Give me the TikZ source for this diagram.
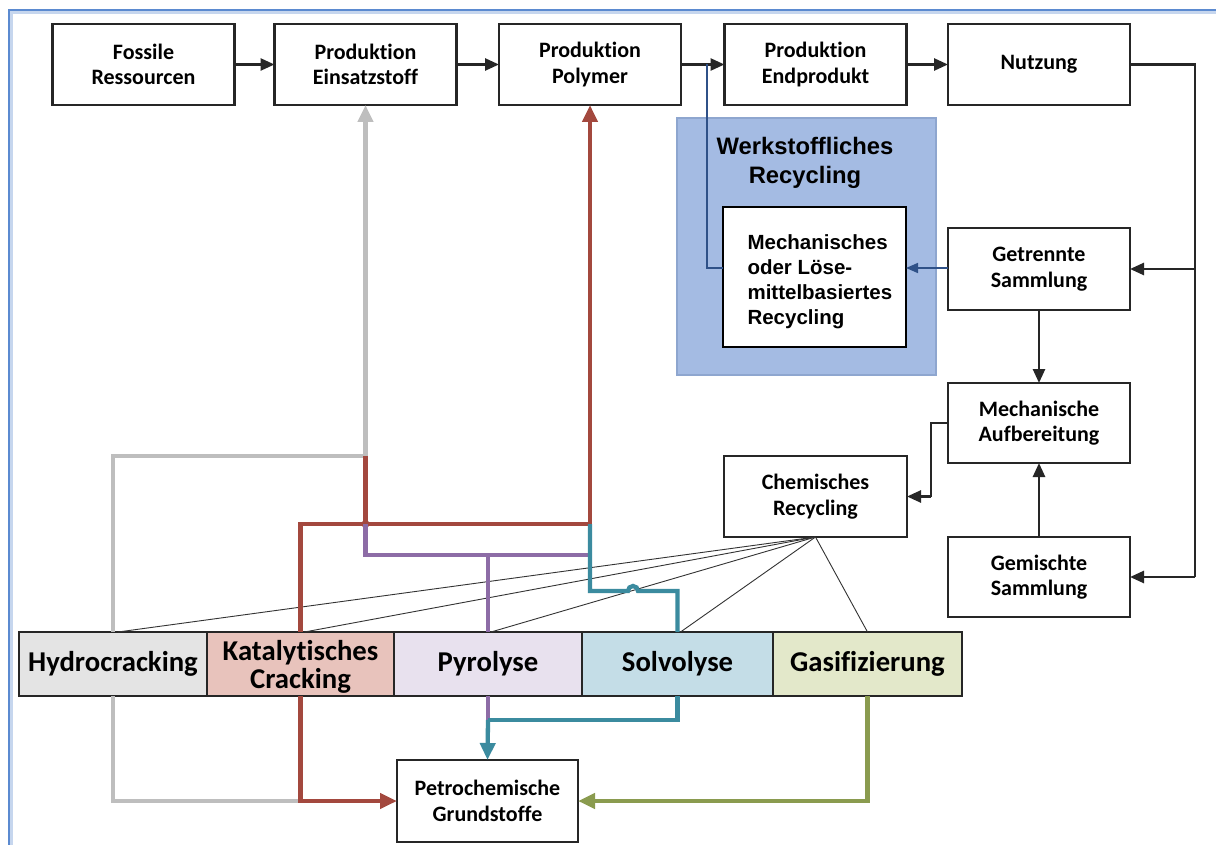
\documentclass[tikz,border=0pt]{standalone}
\usepackage{fontspec}
\setmainfont{Carlito}[Ligatures=NoCommon]
\newfontfamily\arialf{Liberation Sans}
\usetikzlibrary{arrows.meta,calc}
\definecolor{frameblue}{HTML}{5B8AD0}
\definecolor{wkfill}{HTML}{A4BBE3}
\definecolor{wkdraw}{HTML}{8EA6CF}
\definecolor{dkblue}{HTML}{2F5188}
\definecolor{cgray}{HTML}{BEBEBE}
\definecolor{cred}{HTML}{A3483E}
\definecolor{cpurple}{HTML}{8D6CA6}
\definecolor{cteal}{HTML}{3B8B9F}
\definecolor{cgreen}{HTML}{8A9B4F}
\definecolor{fhyd}{HTML}{E4E4E4}
\definecolor{fkat}{HTML}{E8C3BC}
\definecolor{fpyr}{HTML}{E8E1EE}
\definecolor{fsol}{HTML}{C4DDE7}
\definecolor{fgas}{HTML}{E3E8CA}
\tikzset{
  box/.style={draw=black!85, line width=2.4pt, fill=white, inner sep=0pt, outer sep=0pt,
    minimum width=182pt, minimum height=81pt, align=center,
    font=\fontsize{22}{25.5}\selectfont\bfseries},
  seg/.style={draw=black!85, line width=1.8pt, inner sep=0pt, outer sep=0pt,
    minimum height=64pt, align=center, font=\fontsize{28.7}{28}\selectfont\bfseries},
  blk/.style={draw=black!85, line width=2.6pt, -{Triangle[length=14pt,width=12pt]}},
  blkline/.style={draw=black!85, line width=2.6pt},
  col/.style={line width=4.3pt},
  coltip/.style={-{Triangle[length=17pt,width=15pt]}},
  fanline/.style={draw=black!80, line width=0.9pt},
}
\begin{document}
\begin{tikzpicture}[x=1pt,y=-1pt]
\useasboundingbox (0,0) rectangle (1216,845);
\fill[white] (0,0) rectangle (1216,845);
% frame
\draw[frameblue!35, line width=3pt] (1216,13) -- (11,13) -- (11,845);
\draw[frameblue, line width=2pt] (1216,10.5) -- (8.5,10.5) -- (8.5,845);

% Werkstoffliches Recycling area
\fill[wkfill] (677,118) rectangle (936,375);
\draw[wkdraw, line width=1.2pt] (677,118) rectangle (936,375);
\node[align=center, font=\arialf\fontsize{23.8}{29}\selectfont\bfseries] (wktitle) at (805,163) {Werkstoffliches\\Recycling};

% top row
\node[box] (fos) at (143.5,64.5) {Fossile\\Ressourcen};
\node[box] (ein) at (365.5,64.5) {Produktion\\Einsatzstoff};
\node[box] (pol) at (590,64.5) {Produktion\\Polymer};
\node[box] (end) at (815.5,64.5) {Produktion\\Endprodukt};
\node[box] (nut) at (1039,64.5) {Nutzung};

% right column
\node[box, minimum height=82pt] (get) at (1039,269) {Getrennte\\Sammlung};
\node[box, minimum height=80pt] (mech) at (1039,423) {Mechanische\\Aufbereitung};
\node[box, minimum height=80pt] (gem) at (1039,577) {Gemischte\\Sammlung};
\node[box, minimum width=183pt] (chem) at (815.5,496.5) {Chemisches\\Recycling};

% inner recycling box
\node[draw=black, line width=2.2pt, fill=white, inner sep=0pt, outer sep=0pt,
  minimum width=183pt, minimum height=140pt] (mr) at (814.5,277) {};
\node[anchor=west, align=left, font=\arialf\fontsize{20.5}{25}\selectfont\bfseries] (mrtext) at (744,282)
  {Mechanisches\\oder Löse-\\mittelbasiertes\\Recycling};

% process bar
\node[seg, fill=fhyd, minimum width=188pt] (hyd) at (113,664) {Hydrocracking};
\node[seg, fill=fkat, minimum width=187pt] (kat) at (300.5,664) {};
\node[font=\fontsize{28.7}{28}\selectfont\bfseries, align=center, inner sep=0pt] (kattext) at (300.5,667) {Katalytisches\\Cracking};
\node[seg, fill=fpyr, minimum width=188pt] (pyr) at (488,664) {Pyrolyse};
\node[seg, fill=fsol, minimum width=191pt] (sol) at (677.5,664) {Solvolyse};
\node[seg, fill=fgas, minimum width=189pt] (gas) at (867.5,664) {Gasifizierung};

% Petrochemische Grundstoffe
\node[box, minimum width=181pt, minimum height=82pt] (pet) at (487.5,801) {Petrochemische\\Grundstoffe};

% top row arrows
\draw[blk] (fos.east) -- (ein.west);
\draw[blk] (ein.east) -- (pol.west);
\draw[blk] (pol.east) -- (end.west);
\draw[blk] (end.east) -- (nut.west);

% right loop
\coordinate (rx) at (1195,64.5);
\draw[blkline] (nut.east) -- (rx) -- (rx |- gem.east);
\draw[blk] (rx |- gem.east) -- (gem.east);
\draw[blk] (rx |- get.east) -- (get.east);
\draw[blk] (get.south) -- (mech.north);
\draw[blk] (gem.north) -- (mech.south);
\coordinate (mx) at (931,423);
\draw[blkline] (mech.west) -- (mx) -- (mx |- chem.east);
\draw[blk] (mx |- chem.east) -- (chem.east);

% mechanical recycling (dark blue)
\coordinate (dy) at (0,268);
\draw[dkblue, line width=1.6pt, -{Triangle[length=12pt,width=10pt]}] (get.west |- dy) -- (mr.east |- dy);
\coordinate (dk) at (707,64.5);
\draw[dkblue, line width=1.6pt] (mr.west |- dy) -- (dk |- dy) -- (dk);

% fan lines from Chemisches Recycling
\foreach \t/\dx in {hyd/5, kat/4, pyr/3, sol/3, gas/0} {
  \draw[fanline] (chem.south) -- ($(\t.north)+(\dx,0)$);
}

% colored upward flows
\coordinate (g1) at (365.5,456);
\coordinate (r1) at (365.5,524);
\coordinate (p1) at (365.5,555);
\draw[cgray, col, coltip] (hyd.north) |- (g1) -- (ein.south);
\draw[cred, col, coltip] (kat.north) |- (pol.south |- r1) -- (pol.south);
\draw[cred, col] (g1) -- (r1);
\fill[cred] (r1) circle (4pt);
\draw[cpurple, col] (r1) -- (p1) -- (pol.south |- p1);
\draw[cpurple, col] (pyr.north |- p1) -- (pyr.north);
\coordinate (t1) at (590,591);
\draw[cteal, col] (pol.south |- r1) -- (t1) -- (628,591) arc[start angle=180, end angle=0, radius=5pt] -- (sol.north |- t1) -- (sol.north);

% colored downward flows
\coordinate (b1) at (488,720);
\draw[cgray, col] (hyd.south) |- (kat.south |- pet.west);
\draw[cred, col, coltip] (kat.south) |- (pet.west);
\draw[cpurple, col] (pyr.south) -- (b1);
\draw[cteal, col] (sol.south) |- (b1);
\draw[cteal, col, coltip] (b1) -- (pet.north);
\draw[cgreen, col, coltip] (gas.south) |- (pet.east);
\end{tikzpicture}
\end{document}
